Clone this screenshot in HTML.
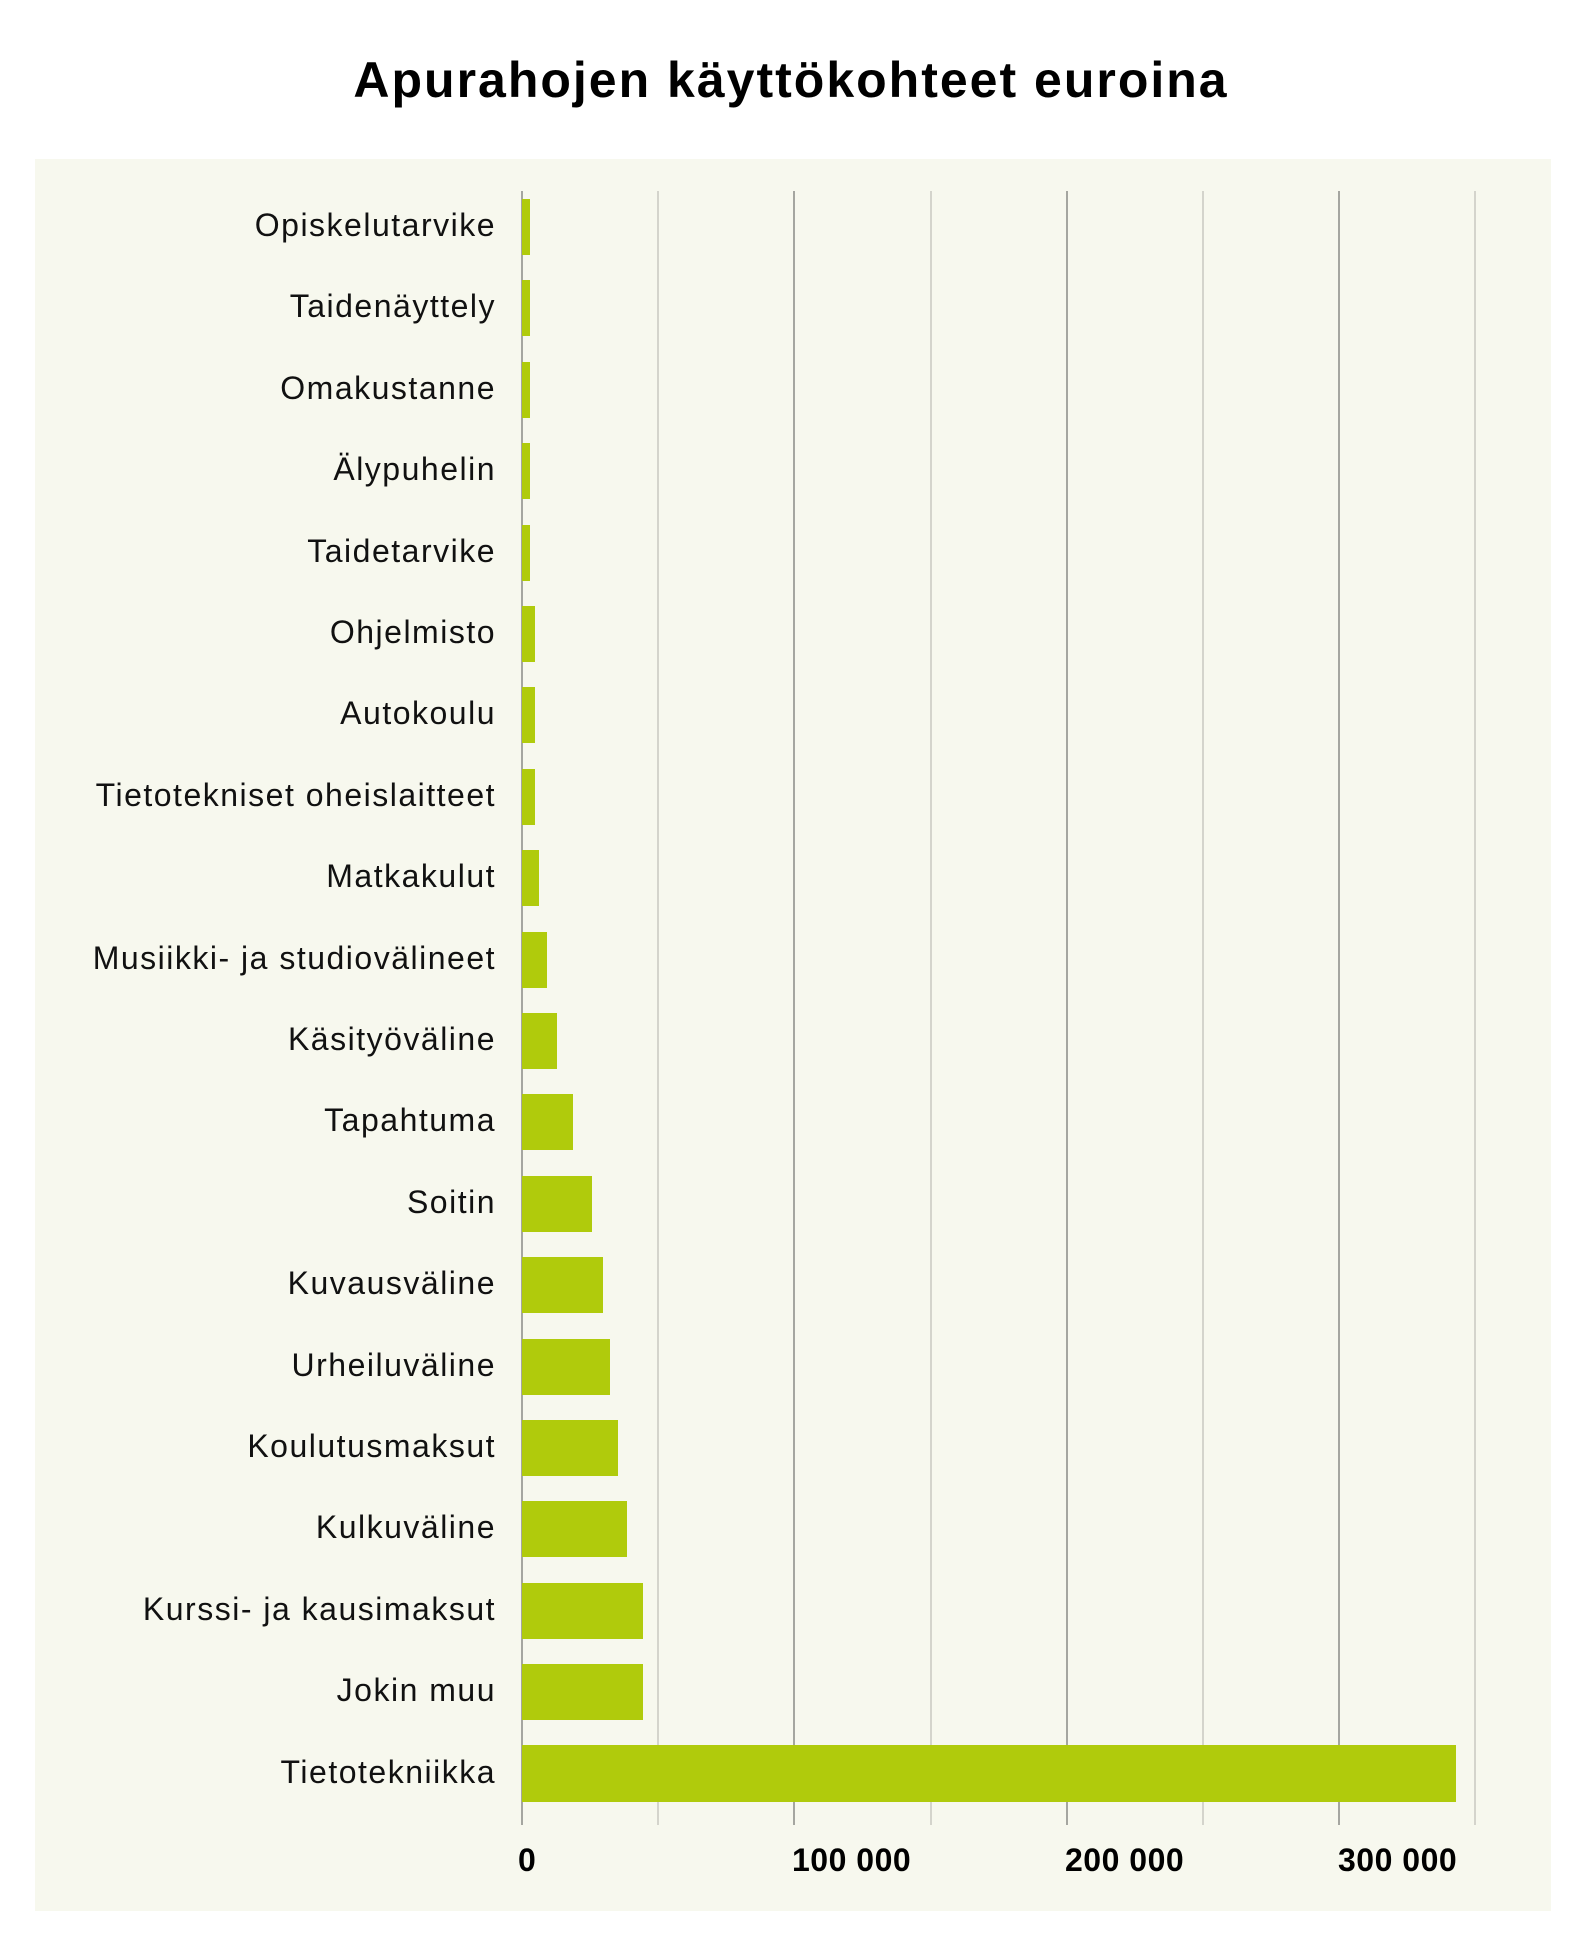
<!DOCTYPE html>
<html><head><meta charset="utf-8"><style>
html,body{margin:0;padding:0;background:#fff;}
svg{display:block;}
text{font-family:"Liberation Sans",sans-serif;}
</style></head><body>
<svg width="1582" height="1949" viewBox="0 0 1582 1949" xmlns="http://www.w3.org/2000/svg">
<text x="791" y="97" text-anchor="middle" font-size="50" font-weight="bold" letter-spacing="2" fill="#000">Apurahojen käyttökohteet euroina</text>
<rect x="35" y="159" width="1516" height="1752" fill="#f7f8ee"/>
<g stroke-width="1.5">
<line x1="658" y1="191" x2="658" y2="1825" stroke="#c8c8c0"/>
<line x1="794" y1="191" x2="794" y2="1825" stroke="#8a8a85"/>
<line x1="931" y1="191" x2="931" y2="1825" stroke="#c8c8c0"/>
<line x1="1067" y1="191" x2="1067" y2="1825" stroke="#8a8a85"/>
<line x1="1203" y1="191" x2="1203" y2="1825" stroke="#c8c8c0"/>
<line x1="1339" y1="191" x2="1339" y2="1825" stroke="#8a8a85"/>
<line x1="1475" y1="191" x2="1475" y2="1825" stroke="#c8c8c0"/>
<line x1="522" y1="191" x2="522" y2="1825" stroke="#8a8a85"/>
</g>
<g fill="#b0cb0c">
<rect x="522" y="199" width="8" height="56"/>
<rect x="522" y="280" width="8" height="56"/>
<rect x="522" y="362" width="8" height="56"/>
<rect x="522" y="443" width="8" height="56"/>
<rect x="522" y="525" width="8" height="56"/>
<rect x="522" y="606" width="13" height="56"/>
<rect x="522" y="687" width="13" height="56"/>
<rect x="522" y="769" width="13" height="56"/>
<rect x="522" y="850" width="17" height="56"/>
<rect x="522" y="932" width="25" height="56"/>
<rect x="522" y="1013" width="35" height="56"/>
<rect x="522" y="1094" width="51" height="56"/>
<rect x="522" y="1176" width="70" height="56"/>
<rect x="522" y="1257" width="81" height="56"/>
<rect x="522" y="1339" width="88" height="56"/>
<rect x="522" y="1420" width="96" height="56"/>
<rect x="522" y="1501" width="105" height="56"/>
<rect x="522" y="1583" width="121" height="56"/>
<rect x="522" y="1664" width="121" height="56"/>
<rect x="522" y="1745" width="934" height="57"/>
</g>
<g font-size="32" letter-spacing="1.5" fill="#111" text-anchor="end">
<text x="496" y="236">Opiskelutarvike</text>
<text x="496" y="317">Taidenäyttely</text>
<text x="496" y="399">Omakustanne</text>
<text x="496" y="480">Älypuhelin</text>
<text x="496" y="562">Taidetarvike</text>
<text x="496" y="643">Ohjelmisto</text>
<text x="496" y="724">Autokoulu</text>
<text x="496" y="806">Tietotekniset oheislaitteet</text>
<text x="496" y="887">Matkakulut</text>
<text x="496" y="969">Musiikki- ja studiovälineet</text>
<text x="496" y="1050">Käsityöväline</text>
<text x="496" y="1131">Tapahtuma</text>
<text x="496" y="1213">Soitin</text>
<text x="496" y="1294">Kuvausväline</text>
<text x="496" y="1376">Urheiluväline</text>
<text x="496" y="1457">Koulutusmaksut</text>
<text x="496" y="1538">Kulkuväline</text>
<text x="496" y="1620">Kurssi- ja kausimaksut</text>
<text x="496" y="1701">Jokin muu</text>
<text x="496" y="1783">Tietotekniikka</text>
</g>
<g font-size="32" font-weight="bold" letter-spacing="0.5" fill="#000" text-anchor="start">
<text x="518" y="1871">0</text>
<text x="792" y="1871">100 000</text>
<text x="1065" y="1871">200 000</text>
<text x="1338" y="1871">300 000</text>
</g>
</svg>
</body></html>
